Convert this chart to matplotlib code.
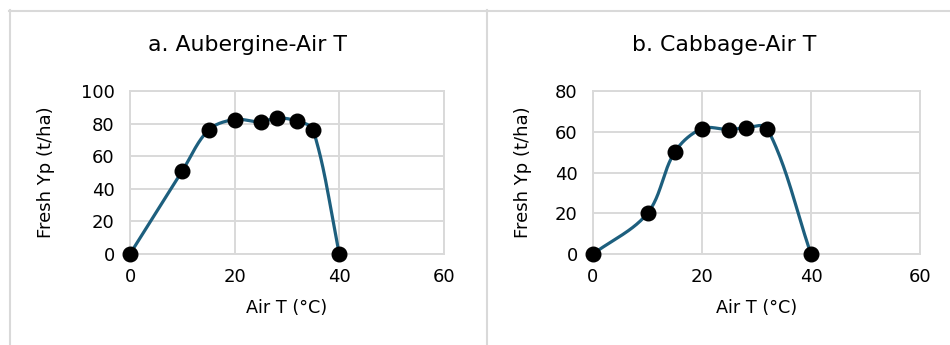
import numpy as np
import matplotlib
matplotlib.use("Agg")
import matplotlib.pyplot as plt
from matplotlib.lines import Line2D

plt.rcParams["font.family"] = ["DejaVu Sans"]

# Aubergine potential yield vs air temperature
aub_temp = [0, 10, 15, 20, 25, 28, 32, 35, 40]
aub_yield = [0, 51, 76, 82.5, 81, 83.5, 81.5, 76, 0]

# Cabbage potential yield vs air temperature
cab_temp = [0, 10, 15, 20, 25, 28, 32, 40]
cab_yield = [0, 20, 50, 61.5, 61, 62, 61.5, 0]

x_ticks = [0, 20, 40, 60]
aub_yticks = [0, 20, 40, 60, 80, 100]
cab_yticks = [0, 20, 40, 60, 80]

LINE = "#1d5f7e"
GRID = "#d9d9d9"
W, H = 950, 345

fig = plt.figure(figsize=(W / 100, H / 100), dpi=100)


def px_box(left, top, right, bottom):
    return [left / W, 1 - bottom / H, (right - left) / W, (bottom - top) / H]


def smooth_curve(ax, xs, ys, n=40):
    """Bezier smoothing in display space; control arms follow the
    neighbour direction and scale with each segment's own length."""
    pts = ax.transData.transform(np.column_stack([xs, ys]))
    m = len(pts)

    def tangent(i):
        a = pts[max(i - 1, 0)]
        b = pts[min(i + 1, m - 1)]
        d = b - a
        return d / np.hypot(*d)

    out = [pts[0]]
    for i in range(m - 1):
        p1, p2 = pts[i], pts[i + 1]
        L = np.hypot(*(p2 - p1)) / 3.0
        c1 = p1 + tangent(i) * L
        c2 = p2 - tangent(i + 1) * L
        t = np.linspace(0, 1, n)[1:, None]
        seg = ((1 - t) ** 3) * p1 + 3 * ((1 - t) ** 2) * t * c1 \
            + 3 * (1 - t) * t ** 2 * c2 + t ** 3 * p2
        out.extend(seg)
    return ax.transData.inverted().transform(np.array(out))


def panel(box, xs, ys, yticks, title, title_x, ylabel_x):
    ax = fig.add_axes(px_box(*box))
    ax.set_xlim(0, 60)
    ax.set_ylim(0, yticks[-1])
    ax.set_xticks(x_ticks)
    ax.set_yticks(yticks)
    ax.grid(True, color=GRID, linewidth=1.4)
    ax.set_axisbelow(True)
    for s in ax.spines.values():
        s.set_color(GRID)
        s.set_linewidth(1.4)
    ax.tick_params(length=0, labelsize=13, colors="black")
    ax.tick_params(axis="y", pad=11)
    ax.tick_params(axis="x", pad=10)

    curve = smooth_curve(ax, xs, ys)
    ax.plot(curve[:, 0], curve[:, 1], color=LINE, linewidth=2.3,
            clip_on=False, zorder=3)
    ax.plot(xs, ys, linestyle="none", marker="o", markersize=10.5,
            color="black", clip_on=False, zorder=4)

    ax.set_ylabel("Fresh Yp (t/ha)", fontsize=13)
    ax.yaxis.set_label_coords(ylabel_x, 0.5)
    ax.set_xlabel("Air T (°C)", fontsize=12.7)
    ax.xaxis.set_label_coords(0.5, -0.33)
    ax.xaxis.label.set_va("center")

    fig.text(title_x / W, 1 - 45 / H, title, fontsize=15.8,
             ha="center", va="center")
    return ax


panel((130, 91, 444, 254), aub_temp, aub_yield, aub_yticks,
      "a. Aubergine-Air T", 248, -0.239)
panel((593, 91, 920, 254), cab_temp, cab_yield, cab_yticks,
      "b. Cabbage-Air T", 724, -0.1875)

# panel frames
for xs_, ys_ in [((9, W), (10.5, 10.5)),
                 ((9.5, 9.5), (10, H)),
                 ((486.5, 486.5), (10, H))]:
    fig.add_artist(Line2D([x / W for x in xs_], [1 - y / H for y in ys_],
                          color=GRID, linewidth=1.5))

fig.savefig("out.png", dpi=100)
